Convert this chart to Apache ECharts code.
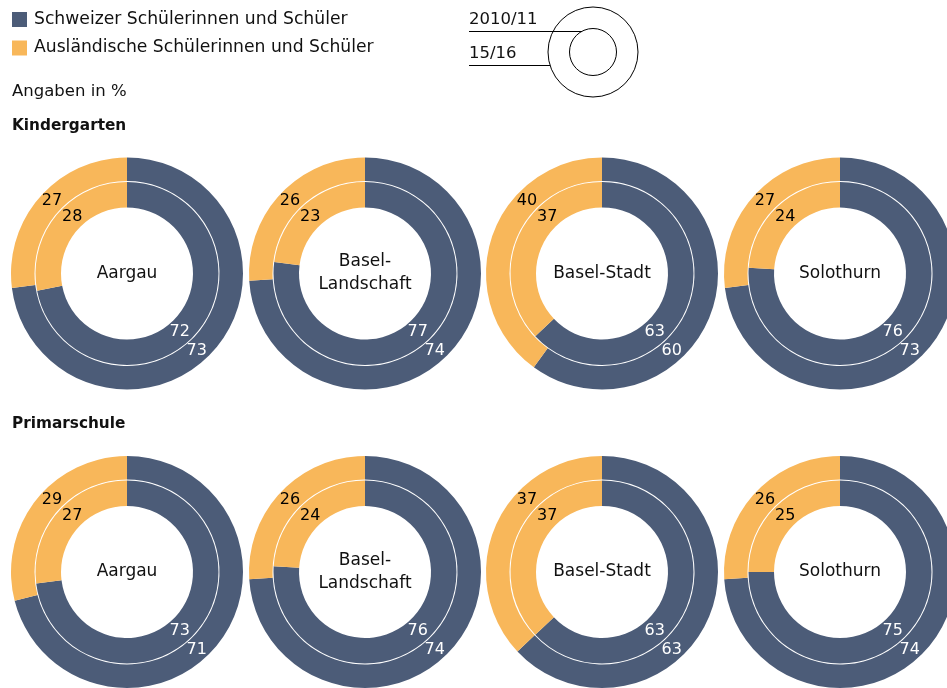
<!DOCTYPE html>
<html><head><meta charset="utf-8">
<script src="https://cdn.jsdelivr.net/npm/echarts@6/dist/echarts.min.js"></script>
<style>html,body{margin:0;padding:0;background:#fff}#c{width:947px;height:688px}</style>
</head><body><div id="c"></div>
<script>
// ---- data ----
const cantons = ['Aargau', 'Basel-\nLandschaft', 'Basel-Stadt', 'Solothurn'];
const levels = ['Kindergarten', 'Primarschule'];
const seriesNames = ['Schweizer Schülerinnen und Schüler', 'Ausländische Schülerinnen und Schüler'];
const ringYears = ['2010/11', '15/16'];   // inner ring, outer ring
const unitNote = 'Angaben in %';
// Kindergarten
const kgSwiss2010   = [72, 77, 63, 76];
const kgForeign2010 = [28, 23, 37, 24];
const kgSwiss2015   = [73, 74, 60, 73];
const kgForeign2015 = [27, 26, 40, 27];
// Primarschule
const psSwiss2010   = [73, 76, 63, 75];
const psForeign2010 = [27, 24, 37, 25];
const psSwiss2015   = [71, 74, 63, 74];
const psForeign2015 = [29, 26, 37, 26];

// ---- layout / style ----
const FONT = '"DejaVu Sans"';
const BLUE = '#4c5c78';
const YELLOW = '#f8b75a';
const colX = [127, 365, 602, 840];
const rowY = [273.5, 572];
const innerR = [66, 91.5];
const outerR = [92.5, 116];

const chart = echarts.init(document.getElementById('c'));

const levelData = [
  { inner: [kgSwiss2010, kgForeign2010], outer: [kgSwiss2015, kgForeign2015] },
  { inner: [psSwiss2010, psForeign2010], outer: [psSwiss2015, psForeign2015] }
];

function labelLayoutFor(cx, cy, r, outer) {
  return function (p) {
    const ang = (p.dataIndex === 0 ? 138 : (outer ? 314 : 316)) * Math.PI / 180;
    return { x: cx + r * Math.sin(ang), y: cy - r * Math.cos(ang), align: 'center', verticalAlign: 'middle' };
  };
}

const series = [];
const graphics = [];
levelData.forEach((lv, li) => {
  cantons.forEach((name, ci) => {
    const cx = colX[ci], cy = rowY[li];
    [['inner', innerR], ['outer', outerR]].forEach(([key, rr]) => {
      const vals = lv[key];
      const rMid = (rr[0] + rr[1]) / 2;
      series.push({
        type: 'pie',
        center: [cx, cy],
        radius: rr,
        startAngle: 90,
        clockwise: true,
        silent: true,
        animation: false,
        avoidLabelOverlap: false,
        emphasis: { disabled: true },
        labelLine: { show: false },
        label: {
          show: true, position: 'inside', formatter: '{c}',
          fontFamily: FONT, fontSize: 16
        },
        labelLayout: labelLayoutFor(cx, cy, rMid, key === 'outer'),
        data: [
          { name: seriesNames[0], value: vals[0][ci], itemStyle: { color: BLUE }, label: { color: '#ffffff' } },
          { name: seriesNames[1], value: vals[1][ci], itemStyle: { color: YELLOW }, label: { color: '#000000' } }
        ]
      });
    });
    graphics.push({
      type: 'text', x: cx, y: cy, silent: true,
      style: { text: name, x: 0, y: 0, align: 'center', verticalAlign: 'middle',
        font: '17px ' + FONT, fill: '#111', lineHeight: 23 }
    });
  });
});

// static texts
graphics.push(
  { type: 'text', x: 12, y: 92, style: { text: unitNote, verticalAlign: 'middle', font: '16.5px ' + FONT, fill: '#111' } },
  { type: 'text', x: 12, y: 126, style: { text: levels[0], verticalAlign: 'middle', font: 'bold 15.3px ' + FONT, fill: '#111' } },
  { type: 'text', x: 12, y: 424, style: { text: levels[1], verticalAlign: 'middle', font: 'bold 15.3px ' + FONT, fill: '#111' } },
  // ring legend
  { type: 'circle', shape: { cx: 593, cy: 52, r: 45 }, style: { fill: 'none', stroke: '#000', lineWidth: 1 } },
  { type: 'circle', shape: { cx: 593, cy: 52, r: 23.5 }, style: { fill: 'none', stroke: '#000', lineWidth: 1 } },
  { type: 'line', shape: { x1: 469, y1: 31.5, x2: 582, y2: 31.5 }, style: { stroke: '#000', lineWidth: 1 } },
  { type: 'line', shape: { x1: 469, y1: 65.5, x2: 550, y2: 65.5 }, style: { stroke: '#000', lineWidth: 1 } },
  { type: 'text', x: 469, y: 20, style: { text: ringYears[0], verticalAlign: 'middle', font: '16.5px ' + FONT, fill: '#111' } },
  { type: 'text', x: 469, y: 54, style: { text: ringYears[1], verticalAlign: 'middle', font: '16.5px ' + FONT, fill: '#111' } }
);

chart.setOption({
  animation: false,
  backgroundColor: '#ffffff',
  legend: {
    left: 12, top: 11, padding: 0, orient: 'vertical', selectedMode: false,
    icon: 'rect', itemWidth: 15, itemHeight: 15, itemGap: 11.5,
    data: seriesNames,
    textStyle: { fontFamily: FONT, fontSize: 17.2, color: '#111', lineHeight: 15, padding: [0, 0, 0, 2] }
  },
  series: series,
  graphic: graphics
});
</script>
</body></html>
